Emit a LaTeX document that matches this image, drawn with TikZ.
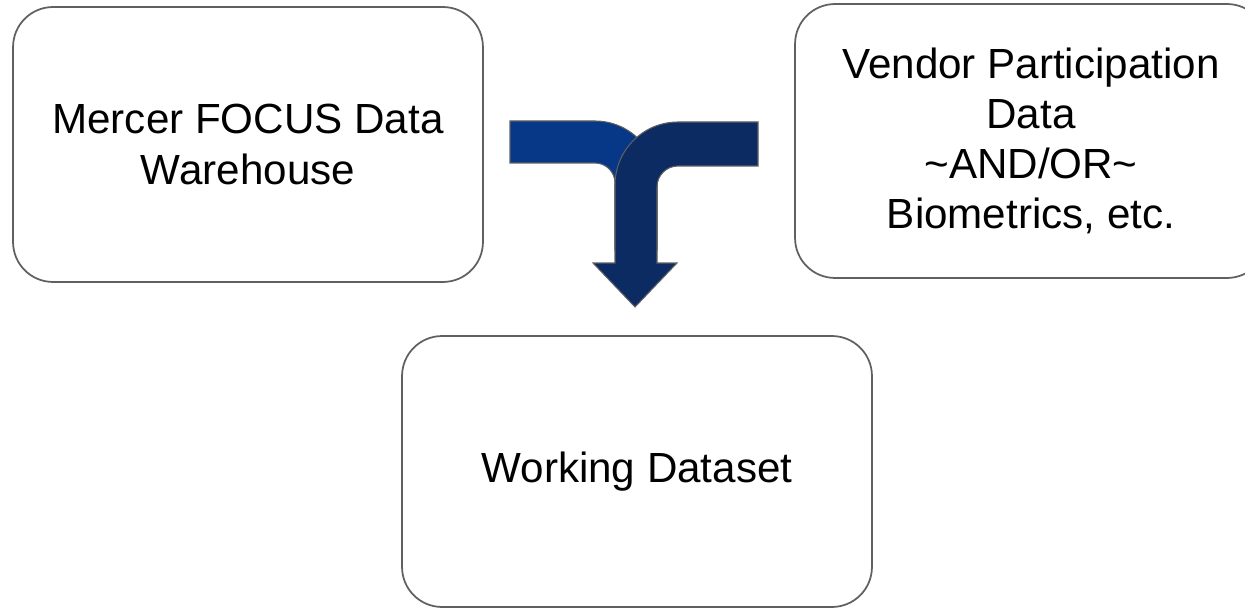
\documentclass[tikz,border=0pt]{standalone}
\usepackage{fontspec}
\setmainfont{Liberation Sans}
\usepackage{tikz}
\usetikzlibrary{positioning}
\usepackage{xcolor}
\definecolor{boxgray}{RGB}{96, 96, 96}
\definecolor{flowblue}{RGB}{7, 55, 135}
\definecolor{flownavy}{RGB}{12, 43, 98}

\begin{document}
\begin{tikzpicture}[x=0.02cm, y=-0.02cm,
  store/.style={rectangle, draw=boxgray, line width=1pt, rounded corners=0.8cm,
    minimum width=9.4cm, minimum height=5.5cm, inner sep=0pt,
    align=center, font=\fontsize{24}{28.5}\selectfont},
  flow/.style={draw=boxgray, line width=0.6pt}
]
  \useasboundingbox (0,0) rectangle (1245,608);
  \node[store]                          (whs) at (248,144.5)
    {Mercer FOCUS Data\\Warehouse};
  \node[store, minimum width=9.44cm, minimum height=5.48cm] (vnd) at (1031,141)
    {Vendor Participation\\Data\\\textasciitilde AND/OR\textasciitilde\\Biometrics, etc.};
  \node[store, minimum height=5.42cm]   (wds) at (637,471.5)
    {Working Dataset};
  % merge arrow
  \draw[flow, fill=flowblue] (510,121) -- (595,121)
    arc[start angle=270, end angle=360, radius=62] -- (657,250) -- (615,250)
    -- (615,183) arc[start angle=0, end angle=-90, radius=20] -- (510,163) -- cycle;
  \draw[flow, fill=flownavy] (758,122) -- (678,122)
    arc[start angle=270, end angle=180, radius=63] -- (615,263) -- (593,263)
    -- (635,307) -- (677,263) -- (657,263)
    -- (657,187) arc[start angle=180, end angle=270, radius=21] -- (758,166) -- cycle;
\end{tikzpicture}
\end{document}
